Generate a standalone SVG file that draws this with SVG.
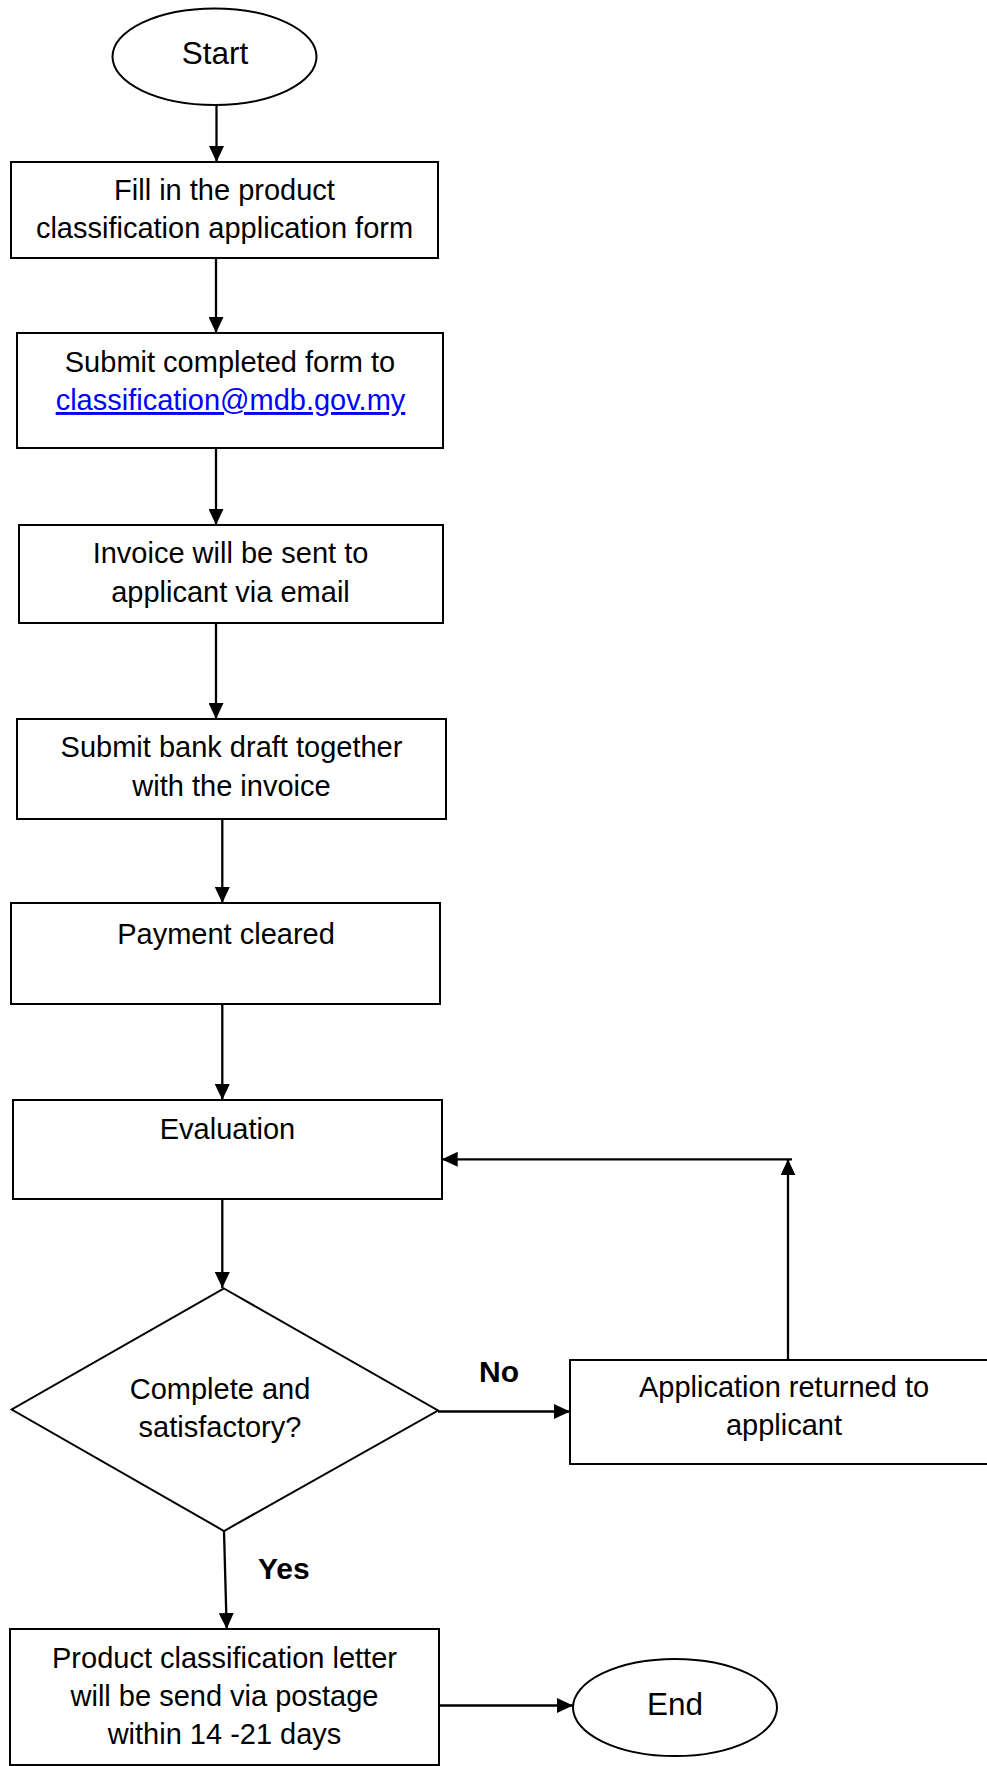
<svg xmlns="http://www.w3.org/2000/svg" width="987" height="1766" viewBox="0 0 987 1766">
  <style>
    .shape { fill: #ffffff; stroke: #000000; stroke-width: 2; }
    .conn { fill: none; stroke: #000000; stroke-width: 2.3; }
    .t { font-family: "Liberation Sans", Arial, sans-serif; font-size: 29px; fill: #000000; text-anchor: middle; }
    .big { font-size: 31.5px; }
    .lbl { font-family: "Liberation Sans", Arial, sans-serif; font-size: 30px; font-weight: bold; fill: #000000; }
    .link { fill: #0000ff; text-decoration: underline; }
  </style>
  <defs>
    <marker id="arrow" viewBox="0 0 16 15" refX="16" refY="7.5" markerWidth="16" markerHeight="15" markerUnits="userSpaceOnUse" orient="auto">
      <path d="M0,0 L16,7.5 L0,15 z" fill="#000000"/>
    </marker>
  </defs>
  <rect x="0" y="0" width="987" height="1766" fill="#ffffff"/>

  <g id="connectors">
    <line class="conn" x1="216.5" y1="105" x2="216.5" y2="162" marker-end="url(#arrow)"/>
    <line class="conn" x1="216" y1="258" x2="216" y2="333" marker-end="url(#arrow)"/>
    <line class="conn" x1="216" y1="448" x2="216" y2="525" marker-end="url(#arrow)"/>
    <line class="conn" x1="216" y1="623" x2="216" y2="719" marker-end="url(#arrow)"/>
    <line class="conn" x1="222.3" y1="819" x2="222.3" y2="903" marker-end="url(#arrow)"/>
    <line class="conn" x1="222.3" y1="1004" x2="222.3" y2="1100" marker-end="url(#arrow)"/>
    <line class="conn" x1="222.3" y1="1199" x2="222.3" y2="1288" marker-end="url(#arrow)"/>
    <line class="conn" x1="438" y1="1411.5" x2="570" y2="1411.5" marker-end="url(#arrow)"/>
    <line class="conn" x1="788" y1="1360" x2="788" y2="1159.3" marker-end="url(#arrow)"/>
    <line class="conn" x1="792" y1="1159.3" x2="441.7" y2="1159.3" marker-end="url(#arrow)"/>
    <line class="conn" x1="224" y1="1531" x2="226.7" y2="1629" marker-end="url(#arrow)"/>
    <line class="conn" x1="438.7" y1="1705.5" x2="573" y2="1705.5" marker-end="url(#arrow)"/>
    <text class="lbl" x="479" y="1381.7">No</text>
    <text class="lbl" x="258" y="1579">Yes</text>
  </g>

  <g id="start">
    <ellipse class="shape" cx="214.5" cy="56.7" rx="102" ry="48.3"/>
    <text class="t big" x="215" y="63.5">Start</text>
  </g>

  <g id="fill-form">
    <rect class="shape" x="11" y="162" width="427" height="96"/>
    <text class="t" x="224.5" y="200">Fill in the product</text>
    <text class="t" x="224.5" y="238.3">classification application form</text>
  </g>

  <g id="submit-form">
    <rect class="shape" x="17" y="333" width="426" height="115"/>
    <text class="t" x="230" y="371.7">Submit completed form to</text>
    <text class="t link" x="230.5" y="410">classification@mdb.gov.my</text>
  </g>

  <g id="invoice">
    <rect class="shape" x="19" y="525" width="424" height="98"/>
    <text class="t" x="230.5" y="563.3">Invoice will be sent to</text>
    <text class="t" x="230.5" y="601.7">applicant via email</text>
  </g>

  <g id="bank-draft">
    <rect class="shape" x="17" y="719" width="429" height="100"/>
    <text class="t" x="231.5" y="757.3">Submit bank draft together</text>
    <text class="t" x="231.5" y="796">with the invoice</text>
  </g>

  <g id="payment">
    <rect class="shape" x="11" y="903" width="429" height="101"/>
    <text class="t" x="226" y="944">Payment cleared</text>
  </g>

  <g id="evaluation">
    <rect class="shape" x="13" y="1100" width="429" height="99"/>
    <text class="t" x="227.5" y="1139">Evaluation</text>
  </g>

  <g id="decision">
    <polygon class="shape" points="224,1288.5 438,1410.5 224,1531 11.7,1409.5"/>
    <text class="t" x="220" y="1399.3">Complete and</text>
    <text class="t" x="220" y="1437.3">satisfactory?</text>
  </g>

  <g id="returned">
    <rect class="shape" x="570" y="1360" width="440" height="104"/>
    <text class="t" x="784" y="1396.7">Application returned to</text>
    <text class="t" x="784" y="1435">applicant</text>
  </g>

  <g id="letter">
    <rect class="shape" x="10" y="1629" width="429" height="136"/>
    <text class="t" x="224.5" y="1667.7">Product classification letter</text>
    <text class="t" x="224.5" y="1706">will be send via postage</text>
    <text class="t" x="224.5" y="1744.3">within 14 -21 days</text>
  </g>

  <g id="end">
    <ellipse class="shape" cx="675" cy="1707.5" rx="102" ry="48.5"/>
    <text class="t big" x="675" y="1714.5">End</text>
  </g>
</svg>
